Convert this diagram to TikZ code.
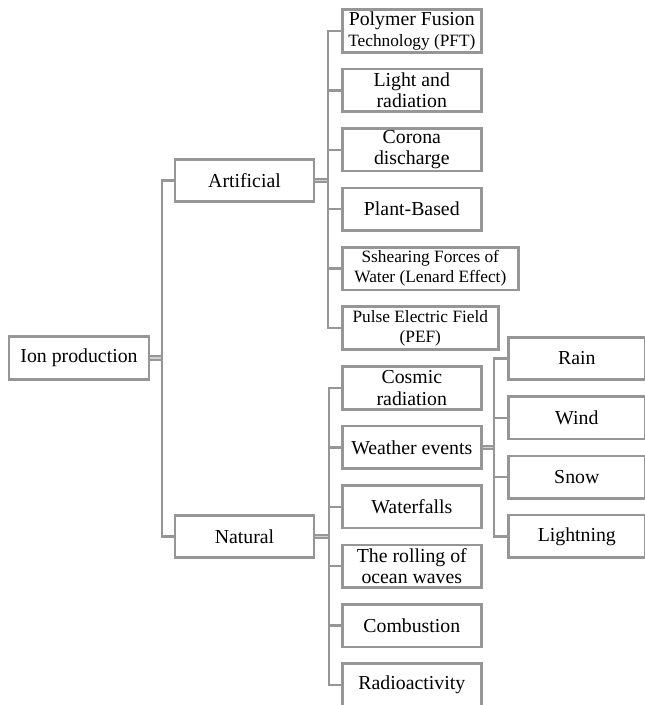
\documentclass[tikz,border=0pt]{standalone}
\usepackage{fontspec}
\setmainfont{Liberation Serif}
\definecolor{lgray}{RGB}{150,150,150}
\newcommand{\bigf}{\fontsize{19.8}{21.5}\selectfont}
\newcommand{\smallf}{\fontsize{17.3}{20}\selectfont}
\tikzset{
  box/.style={draw=lgray, line width=2.6pt, fill=white, minimum height=42.5pt,
    inner sep=0pt, align=center, font=\bigf, text=black},
  ln/.style={draw=lgray, line width=2.4pt},
  dbl/.style={draw=lgray, line width=1.8pt, double=lgray!45, double distance=1.6pt}
}
\begin{document}
\begin{tikzpicture}[x=1pt,y=-1pt]
\useasboundingbox (0,0) rectangle (645,705);
% level 0 and 1
\node[box, minimum width=140pt] (root) at (79,358) {Ion production};
\node[box, minimum width=139pt] (art) at (244.5,180.5) {Artificial};
\node[box, minimum width=139pt] (nat) at (244.5,536.5) {Natural};
% artificial children
\node[box, minimum width=139pt, anchor=west] (pft) at (341,31) {Polymer Fusion\\[-1pt]{\smallf Technology (PFT)}};
\node[box, minimum width=139pt, anchor=west] (light) at (341,90.4) {Light and\\radiation};
\node[box, minimum width=139pt, anchor=west] (corona) at (341,149.8) {Corona\\discharge};
\node[box, minimum width=139pt, anchor=west] (plant) at (341,209.2) {Plant-Based};
\node[box, minimum width=176pt, anchor=west, font=\smallf] (shear) at (341,268.6) {Sshearing Forces of\\Water (Lenard Effect)};
\node[box, minimum width=156pt, anchor=west, font=\smallf] (pef) at (341,328) {Pulse Electric Field\\(PEF)};
% natural children
\node[box, minimum width=139pt, anchor=west] (cosmic) at (341,388) {Cosmic\\radiation};
\node[box, minimum width=139pt, anchor=west] (weather) at (341,447.4) {Weather events};
\node[box, minimum width=139pt, anchor=west] (water) at (341,506.8) {Waterfalls};
\node[box, minimum width=139pt, anchor=west] (ocean) at (341,566.2) {The rolling of\\ocean waves};
\node[box, minimum width=139pt, anchor=west] (comb) at (341,625.6) {Combustion};
\node[box, minimum width=139pt, anchor=west] (radio) at (341,685) {Radioactivity};
% weather children
\node[box, minimum width=137pt, anchor=west] (rain) at (507,358.5) {Rain};
\node[box, minimum width=137pt, anchor=west] (wind) at (507,417.8) {Wind};
\node[box, minimum width=137pt, anchor=west] (snow) at (507,477.1) {Snow};
\node[box, minimum width=137pt, anchor=west] (lightning) at (507,536.4) {Lightning};
% connectors: root
\coordinate (rb) at (162,358);
\draw[dbl] (root.east) -- (rb);
\draw[ln] (art.west) -- (art.west -| rb) -- (nat.west -| rb) -- (nat.west);
% artificial
\coordinate (ab) at (328,180.5);
\draw[dbl] (art.east) -- (ab);
\draw[ln] (pft.west) -- (pft.west -| ab) -- (pef.west -| ab) -- (pef.west);
\foreach \c in {light,corona,plant,shear}{\draw[ln] (\c.west) -- (\c.west -| ab);}
% natural
\coordinate (nb) at (329,536.5);
\draw[dbl] (nat.east) -- (nb);
\draw[ln] (cosmic.west) -- (cosmic.west -| nb) -- (radio.west -| nb) -- (radio.west);
\foreach \c in {weather,water,ocean,comb}{\draw[ln] (\c.west) -- (\c.west -| nb);}
% weather
\coordinate (wb) at (494,447.4);
\draw[dbl] (weather.east) -- (wb);
\draw[ln] (rain.west) -- (rain.west -| wb) -- (lightning.west -| wb) -- (lightning.west);
\foreach \c in {wind,snow}{\draw[ln] (\c.west) -- (\c.west -| wb);}
\end{tikzpicture}
\end{document}
